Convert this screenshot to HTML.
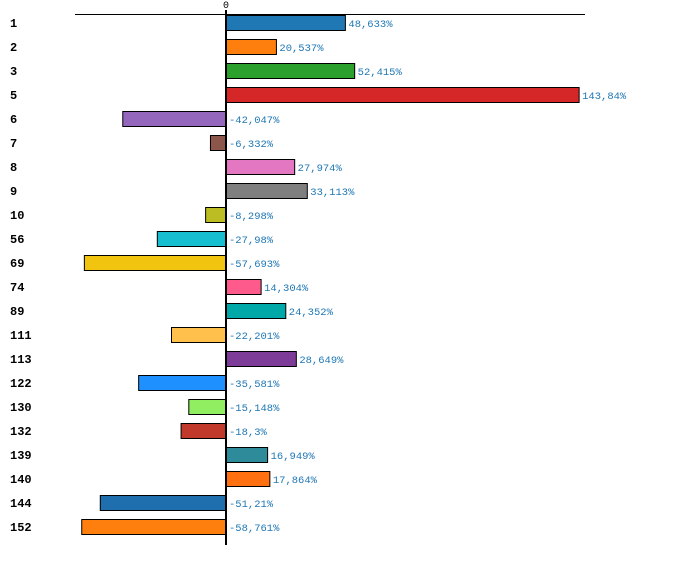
<!DOCTYPE html>
<html><head><meta charset="utf-8"><style>
html,body{margin:0;padding:0;background:#fff;}
svg{display:block;}
text{font-family:"Liberation Mono","DejaVu Sans Mono",monospace;}
</style></head><body>
<svg id="chart" width="700" height="573" xmlns="http://www.w3.org/2000/svg"></svg>
<script>
const categories = ["1","2","3","5","6","7","8","9","10","56","69","74","89","111","113","122","130","132","139","140","144","152"];
const values = [48.633,20.537,52.415,143.84,-42.047,-6.332,27.974,33.113,-8.298,-27.98,-57.693,14.304,24.352,-22.201,28.649,-35.581,-15.148,-18.3,16.949,17.864,-51.21,-58.761];
const labels = ["48,633%","20,537%","52,415%","143,84%","-42,047%","-6,332%","27,974%","33,113%","-8,298%","-27,98%","-57,693%","14,304%","24,352%","-22,201%","28,649%","-35,581%","-15,148%","-18,3%","16,949%","17,864%","-51,21%","-58,761%"];
const colors = ["#1f77b4","#ff7f0e","#2ca02c","#d62728","#9467bd","#8c564b","#e377c2","#7f7f7f","#bcbd22","#17becf","#f1c40f","#ff5a8c","#00a8a8","#ffc04c","#7d3c98","#1e90ff","#90ee60","#c0392b","#2e8b9a","#ff7010","#1f6fae","#ff7f0e"];

const NS="http://www.w3.org/2000/svg";
const svgEl=document.getElementById('chart');
const x0=226, k=2.455;
const xScale=v=>x0+v*k;
const yCenter=i=>23+24*i;
function mk(tag,attrs){const e=document.createElementNS(NS,tag);for(const a in attrs)e.setAttribute(a,attrs[a]);svgEl.appendChild(e);return e;}

const topAxis=mk('line',{x1:75,y1:14.5,x2:585,y2:14.5,stroke:'#000','stroke-width':1});


const zt=mk('text',{x:x0,y:8,'font-size':10,'text-anchor':'middle',fill:'#000'});
zt.textContent='0';



categories.forEach((c,i)=>{
  const v=values[i], cy=yCenter(i);
  const xa=Math.min(xScale(0),xScale(v)), w=Math.abs(xScale(v)-xScale(0));
  const r=mk('rect',{x:xa,y:cy-7.5,width:w,height:15,fill:colors[i],stroke:'#000','stroke-width':1});
  
  
  const t=mk('text',{x:10,y:cy+4,'font-size':12,'font-weight':'bold',fill:'#000'});
  t.textContent=c;
  
  
  const lx=v>=0?xScale(v)+3:x0+3;
  const vl=mk('text',{x:lx,y:cy+4,'font-size':10.5,fill:'#1f77b4'});
  vl.textContent=labels[i];
  
  
});
const ax=mk('line',{x1:x0,y1:10,x2:x0,y2:545,stroke:'#000','stroke-width':2});


</script>
</body></html>
